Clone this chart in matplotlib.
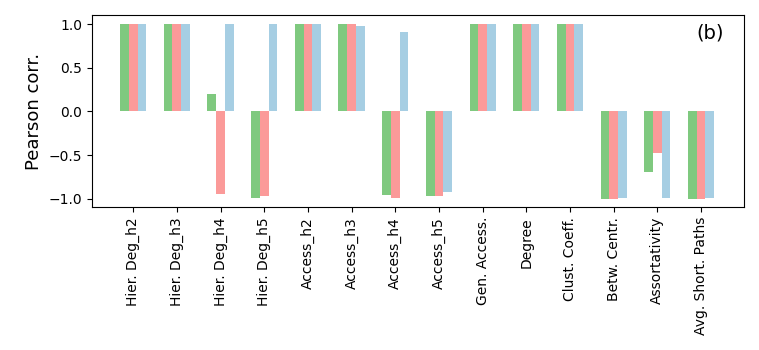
import matplotlib
matplotlib.use('Agg')
import matplotlib.pyplot as plt
import numpy as np

# correlation of each feature for the three settings
features = ['Hier. Deg_h2', 'Hier. Deg_h3', 'Hier. Deg_h4', 'Hier. Deg_h5',
            'Access_h2', 'Access_h3', 'Access_h4', 'Access_h5',
            'Gen. Access.', 'Degree', 'Clust. Coeff.', 'Betw. Centr.',
            'Assortativity', 'Avg. Short. Paths']
corr_green = [1.0, 1.0, 0.195, -0.985, 1.0, 1.0, -0.95, -0.97,
              1.0, 1.0, 1.0, -0.996, -0.697, -0.996]
corr_red = [1.0, 1.0, -0.94, -0.97, 1.0, 1.0, -0.985, -0.97,
            1.0, 1.0, 1.0, -0.996, -0.479, -0.996]
corr_blue = [1.0, 1.0, 1.0, 1.0, 1.0, 0.977, 0.908, -0.916,
             1.0, 1.0, 1.0, -0.985, -0.985, -0.985]

colors = ['#7fc97f', '#fb9a99', '#a6cee3']

fig = plt.figure(figsize=(7.59, 3.5), dpi=100)
ax = fig.add_axes([0.1208, 0.4077, 0.8598, 0.5486])

x = np.arange(len(features))
w = 0.2
ax.bar(x - w, corr_green, w, color=colors[0])
ax.bar(x, corr_red, w, color=colors[1])
ax.bar(x + w, corr_blue, w, color=colors[2])

ax.set_xticks(x)
ax.set_xticklabels(features, rotation=90)
ax.set_xlim(-0.95, len(features) - 1 + 0.99)
ax.set_yticks([-1.0, -0.5, 0.0, 0.5, 1.0])
ax.set_ylabel('Pearson corr.', fontsize=13)
ax.text(0.948, 0.908, '(b)', transform=ax.transAxes, fontsize=14,
        ha='center', va='center')

fig.savefig('out.png', dpi=100)
